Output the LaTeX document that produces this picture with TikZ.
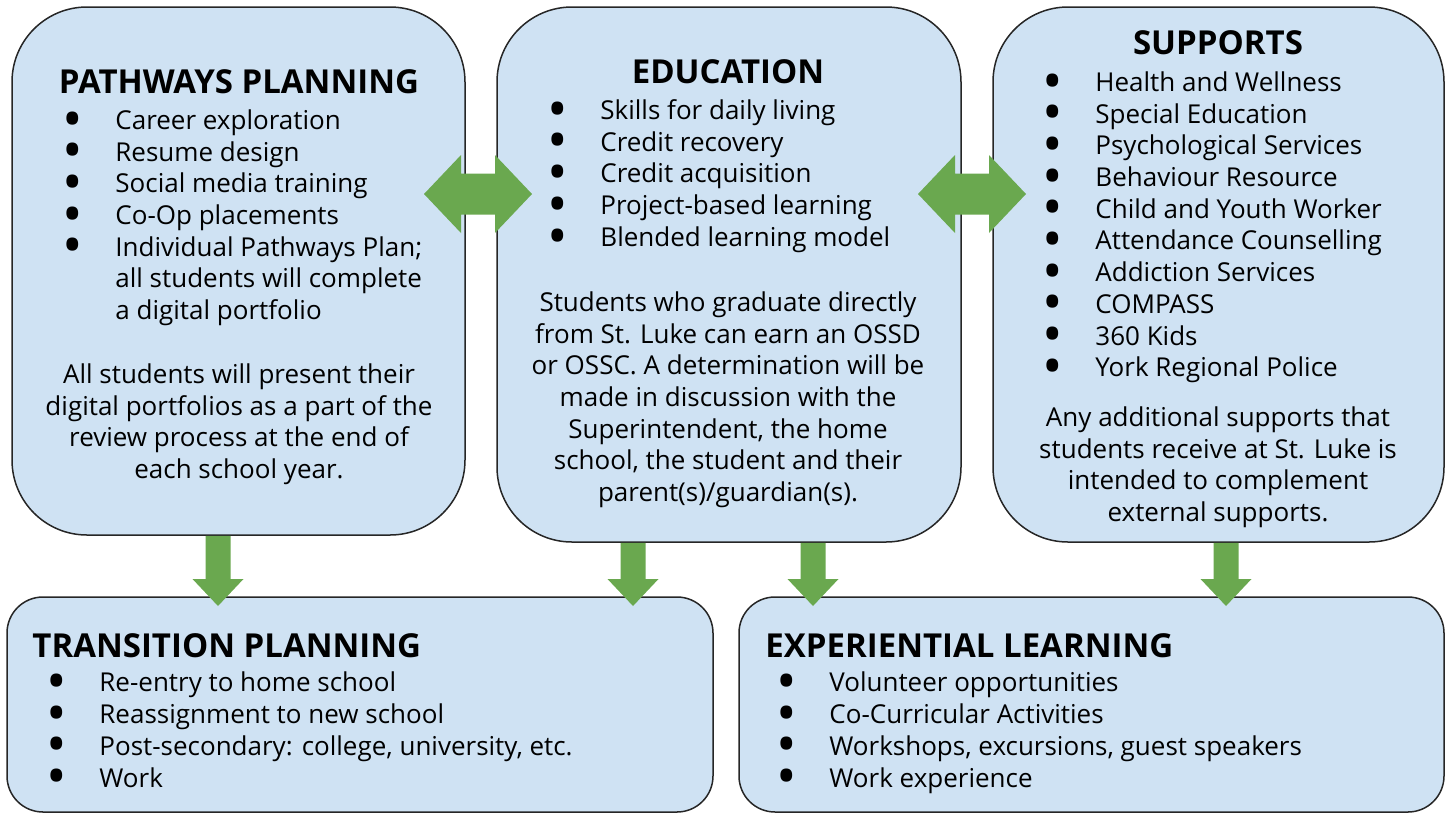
\documentclass[tikz,border=0pt]{standalone}
\usepackage{fontspec}
\setmainfont{Open Sans}
\usetikzlibrary{calc,fit}

\definecolor{boxblue}{HTML}{CFE2F3}
\definecolor{arrowgreen}{HTML}{6AA84F}

\newcommand{\bodyfont}{\fontsize{13}{15.85}\selectfont}
\newcommand{\headfont}{\fontsize{16.5}{19}\selectfont\bfseries}
\newcommand{\itm}{\llap{\raisebox{-4.3pt}{\scalebox{2.1}{\textbullet}}\hspace{16pt}}}

% block arrow pointing down, from #1 (top) to #2 (tip)
\newcommand{\dnarrow}[2]{
  \fill[arrowgreen] ($(#1)+(-12.5,0)$) -- ($(#2)+(-12.5,-27)$) -- ($(#2)+(-25.5,-27)$) -- (#2)
    -- ($(#2)+(25.5,-27)$) -- ($(#2)+(12.5,-27)$) -- ($(#1)+(12.5,0)$) -- cycle;
}
% block arrow with two heads, tip #1 (left) and tip #2 (right)
\newcommand{\lrarrow}[2]{
  \fill[arrowgreen] (#1) -- ($(#1)+(37,-39)$) -- ($(#1)+(37,-20.5)$) -- ($(#2)+(-37,-20.5)$)
    -- ($(#2)+(-37,-39)$) -- (#2) -- ($(#2)+(-37,39)$) -- ($(#2)+(-37,20.5)$)
    -- ($(#1)+(37,20.5)$) -- ($(#1)+(37,39)$) -- cycle;
}

\tikzset{
  topbox/.style={draw=black!85, line width=0.75pt, fill=boxblue, rounded corners=37.5pt, inner sep=0pt},
  lowbox/.style={topbox, rounded corners=18pt},
  head/.style={font=\headfont, inner sep=0pt},
  items/.style={font=\bodyfont, align=left, inner sep=0pt, anchor=north west, execute at begin node=\strut},
  note/.style={font=\bodyfont, align=center, inner sep=0pt, anchor=north, execute at begin node=\strut},
}

\begin{document}
\begin{tikzpicture}[x=0.5pt, y=-0.5pt]
  \useasboundingbox (0,0) rectangle (1452,815);

  % the five boxes
  \node[topbox, fit={(12,7) (465,535)}] (pp) {};
  \node[topbox, fit={(497,7) (961,542)}] (ed) {};
  \node[topbox, fit={(993,7) (1444,542)}] (su) {};
  \node[lowbox, fit={(7,597) (713,812)}] (tp) {};
  \node[lowbox, fit={(739,597) (1444,812)}] (el) {};

  % pathways planning
  \node[head, anchor=base] (pph) at (239,93) {PATHWAYS PLANNING};
  \node[items] (ppl) at (115,109.3) {\itm Career exploration\\ \itm Resume design\\
    \itm Social media training\\ \itm Co-Op placements\\ \itm Individual Pathways Plan;\\
    all students will complete\\ a digital portfolio};
  \node[note] (ppn) at (239,363.3) {All students will present their\\
    digital portfolios as a part of the\\ review process at the end of\\ each school year.};

  % education
  \node[head, anchor=base] (edh) at (728,83) {EDUCATION};
  \node[items] (edl) at (600,99.3) {\itm Skills for daily living\\ \itm Credit recovery\\
    \itm Credit acquisition\\ \itm Project-based learning\\ \itm Blended learning model};
  \node[note] (edn) at (728,291.3) {Students who graduate directly\\
    from St. Luke can earn an OSSD\\ or OSSC. A determination will be\\
    made in discussion with the\\ Superintendent, the home\\
    school, the student and their\\ parent(s)/guardian(s).};

  % supports
  \node[head, anchor=base] (suh) at (1218,54) {SUPPORTS};
  \node[items] (sul) at (1095,71.3) {\itm Health and Wellness\\ \itm Special Education\\
    \itm Psychological Services\\ \itm Behaviour Resource\\ \itm Child and Youth Worker\\
    \itm Attendance Counselling\\ \itm Addiction Services\\ \itm COMPASS\\
    \itm 360 Kids\\ \itm York Regional Police};
  \node[note] (sun) at (1218,406.3) {Any additional supports that\\
    students receive at St. Luke is\\ intended to complement\\ external supports.};

  % transition planning
  \node[head, anchor=base west] (tph) at (32,657) {TRANSITION PLANNING};
  \node[items] (tpl) at (99,671.8) {\itm Re-entry to home school\\
    \itm Reassignment to new school\\ \itm Post-secondary: college, university, etc.\\
    \itm Work};

  % experiential learning
  \node[head, anchor=base west] (elh) at (765,657) {EXPERIENTIAL LEARNING};
  \node[items] (ell) at (829,671.8) {\itm Volunteer opportunities\\
    \itm Co-Curricular Activities\\ \itm Workshops, excursions, guest speakers\\
    \itm Work experience};

  % green arrows
  \coordinate (l1) at (424,194);
  \coordinate (r1) at (532,194);
  \coordinate (l2) at (918,194);
  \coordinate (r2) at (1026,194);
  \lrarrow{l1}{r1}
  \lrarrow{l2}{r2}

  \coordinate (d1) at (218,606);
  \coordinate (d2) at (633,606);
  \coordinate (d3) at (813,606);
  \coordinate (d4) at (1226,606);
  \coordinate (u1) at (pp.south -| d1);
  \coordinate (u2) at (ed.south -| d2);
  \coordinate (u3) at (ed.south -| d3);
  \coordinate (u4) at (su.south -| d4);
  \dnarrow{u1}{d1}
  \dnarrow{u2}{d2}
  \dnarrow{u3}{d3}
  \dnarrow{u4}{d4}
\end{tikzpicture}
\end{document}
